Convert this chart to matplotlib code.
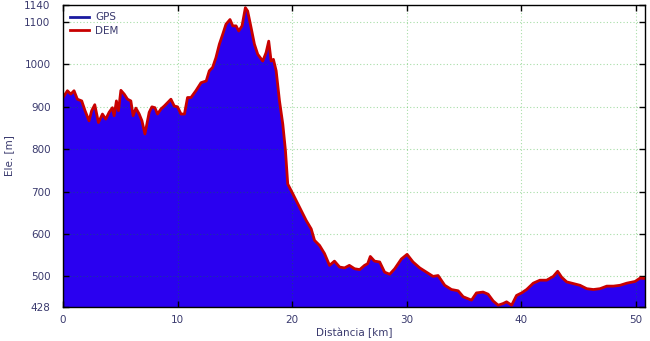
import numpy as np
import matplotlib
matplotlib.use("Agg")
import matplotlib.pyplot as plt
from matplotlib.lines import Line2D

# distance [km] and elevation [m] read from the profile
distKm = [0.0, 0.38, 0.67, 0.96, 1.25, 1.63, 1.92, 2.27, 2.5, 2.77, 3.09, 3.44, 3.73, 4.02,
          4.31, 4.46, 4.66, 4.84, 5.05, 5.34, 5.63, 5.92, 6.12, 6.36, 6.65, 6.89, 7.15, 7.38,
          7.52, 7.76, 8.02, 8.25, 8.55, 8.84, 9.13, 9.42, 9.71, 10.0, 10.3, 10.6, 10.87, 11.17,
          11.6, 12.05, 12.5, 12.77, 13.06, 13.35, 13.65, 13.94, 14.23, 14.58, 14.82, 15.11,
          15.34, 15.63, 15.92, 16.12, 16.42, 16.71, 17.0, 17.44, 17.73, 17.96, 18.17, 18.37,
          18.61, 18.9, 19.19, 19.42, 19.62, 20.06, 20.65, 21.23, 21.67, 21.96, 22.4, 22.83,
          23.27, 23.7, 24.15, 24.58, 25.0, 25.46, 25.9, 26.33, 26.6, 26.83, 27.2, 27.65, 28.08,
          28.52, 28.96, 29.54, 30.04, 30.56, 31.15, 31.73, 32.31, 32.75, 33.33, 33.92, 34.5,
          34.94, 35.67, 36.1, 36.68, 37.12, 37.56, 38.0, 38.43, 38.73, 39.17, 39.6, 40.04,
          40.48, 41.06, 41.64, 42.23, 42.81, 43.19, 43.54, 43.98, 44.56, 45.14, 45.73, 46.31,
          46.89, 47.48, 48.06, 48.64, 49.23, 49.95, 50.39, 50.83]
eleM = [922, 938, 930, 938, 918, 914, 891, 867, 891, 905, 863, 883, 871, 887,
        898, 879, 914, 891, 939, 930, 918, 914, 879, 897, 883, 867, 836, 867,
        887, 900, 898, 883, 895, 902, 910, 918, 902, 900, 883, 883, 922, 922,
        938, 957, 961, 985, 993, 1016, 1048, 1071, 1095, 1106, 1091, 1091,
        1079, 1091, 1134, 1126, 1087, 1048, 1024, 1008, 1028, 1055, 1008, 1012,
        985, 914, 859, 797, 718, 695, 663, 632, 612, 585, 573, 554,
        526, 536, 522, 520, 526, 518, 516, 526, 530, 547, 536, 534, 510,
        505, 518, 541, 552, 534, 520, 510, 500, 502, 479, 469, 466,
        452, 444, 461, 463, 458, 442, 432, 436, 440, 432, 455, 461,
        469, 484, 491, 491, 500, 512, 498, 487, 483, 479, 471, 469,
        471, 477, 477, 479, 484, 488, 496, 495]

xTicks = [0, 10, 20, 30, 40, 50]
yTicks = [428, 500, 600, 700, 800, 900, 1000, 1100, 1140]

fillColor = '#2a00f0'
demColor = '#c80000'
textColor = '#3a3a6e'

fig = plt.figure(figsize=[6.5, 3.41], dpi=100)
ax = fig.add_axes([0.097, 0.10, 0.895, 0.885])

dist = np.array(distKm)
ele = np.array(eleM)

# GPS profile as filled area, DEM as red line on top
ax.fill_between(dist, 428, ele, color=fillColor, linewidth=0, zorder=2)
ax.plot(dist, ele, color=demColor, linewidth=2.0, zorder=3)

ax.set_xlim([0, 50.8])
ax.set_ylim([428, 1140])
ax.set_xticks(xTicks)
ax.set_yticks(yTicks)

# grid drawn in front, translucent so it shows dark over the fill
ax.grid(True, color='#00a000', alpha=0.35, linestyle=(0, (1, 2)), linewidth=0.8)
ax.set_axisbelow(False)
for gl in ax.get_xgridlines() + ax.get_ygridlines():
    gl.set_zorder(4)

ax.tick_params(direction='in', length=4, width=1.0, top=True, right=True,
               labelsize=7.5, labelcolor=textColor)
ax.tick_params(axis='y', pad=9)
ax.tick_params(axis='x', pad=6)
for side in ['left', 'right', 'top', 'bottom']:
    ax.spines[side].set_color('black')
    ax.spines[side].set_linewidth(1.0)
    ax.spines[side].set_zorder(5)

ax.set_xlabel('Distància [km]', fontsize=7.5, color=textColor, labelpad=2)
ax.set_ylabel('Ele. [m]', fontsize=7.5, color=textColor, labelpad=7)

handles = [Line2D([0], [0], color='#1a1aa0', linewidth=2),
           Line2D([0], [0], color=demColor, linewidth=2)]
leg = ax.legend(handles, ['GPS', 'DEM'], loc='upper left', frameon=False, fontsize=7.5,
                handlelength=1.8, handletextpad=0.6, labelspacing=0.35,
                borderaxespad=0.3, bbox_to_anchor=(0.0, 1.0))
for t in leg.get_texts():
    t.set_color(textColor)

fig.savefig('out.png', dpi=100)
